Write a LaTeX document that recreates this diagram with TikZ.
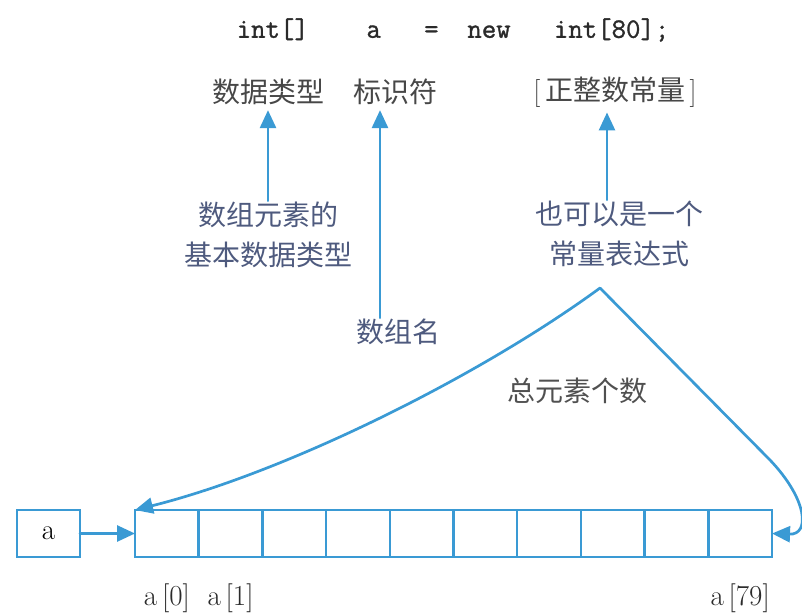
\documentclass[tikz,border=0pt]{standalone}
\usepackage{fontspec}
\usetikzlibrary{arrows.meta,positioning}
\newfontfamily\cjk{Noto Sans CJK SC}
\newfontfamily\codefont{Latin Modern Mono}[FakeBold=1.2]
\definecolor{ln}{HTML}{3A9AD4}
\definecolor{codec}{HTML}{2A2A2A}
\definecolor{kindc}{HTML}{474747}
\definecolor{notec}{HTML}{4E5A7E}
\definecolor{sumc}{HTML}{505050}
\tikzset{
  code/.style={font=\fontsize{28}{34}\selectfont\codefont,text=codec,inner sep=1pt},
  kind/.style={font=\fontsize{28}{40}\selectfont\cjk,text=kindc,inner sep=1pt},
  note/.style={kind,text=notec,align=center},
  cell/.style={draw=ln,line width=2.5pt,minimum width=63.7pt,minimum height=47pt,inner sep=0pt,outer sep=0pt},
  idx/.style={font=\fontsize{29}{32}\selectfont,text=codec,inner sep=1pt},
  arr/.style={-{Triangle[length=18pt,width=16pt]},line width=2.7pt,draw=ln,line cap=round},
}
\begin{document}
\begin{tikzpicture}[x=1pt,y=-1pt]
\useasboundingbox (0,0) rectangle (802,613);
% declaration and its parts
\node[code] (decl) at (453,30) {\textbf{int[]\ \ \ \ a\ \ \ =\ \ new\ \ \ int[80];}};
\node[kind] (dtype) at (268,92) {数据类型};
\node[kind] (ident) at (395,92) {标识符};
\node[kind] (bound) at (615,92) {{\rmfamily[}\,正整数常量\,{\rmfamily]}};
\node[note] (elem) at (268,235) {数组元素的\\基本数据类型};
\node[note] (aname) at (398,332) {数组名};
\node[note] (expr) at (619,234) {也可以是一个\\常量表达式};
\node[kind,text=sumc] (total) at (577,391) {总元素个数};
\draw[arr,shorten >=4pt] (elem) -- (dtype);
\draw[arr,shorten >=4pt] ([xshift=-18pt]aname.north) -- ([xshift=-15pt]ident.south);
\draw[arr,shorten >=4pt] ([xshift=-12pt]expr.north) -- ([xshift=-8pt]bound.south);
% the array
\node[cell,minimum width=63pt] (abox) at (48.5,533.5) {\fontsize{29}{34}\selectfont a};
\node[cell] (c0) at (166.85,533.5) {};
\foreach \i [count=\j from 0] in {1,...,9}
  \node[cell,right=0pt of c\j] (c\i) {};
\node[idx,below=26pt of c0] (l0) {a\,[0]};
\node[idx,below=26pt of c1] (l1) {a\,[1]};
\node[idx,below=26pt of c9] (l79) {a\,[79]};
\coordinate (apex) at (600,288);
\draw[arr] (apex) .. controls (480,376) and (287,472) .. (c0.north west);
\draw[arr] (apex) -- (770,460) .. controls (808,500) and (810,535) .. (c9.east);
\draw[arr] (abox) -- (c0);
\end{tikzpicture}
\end{document}
